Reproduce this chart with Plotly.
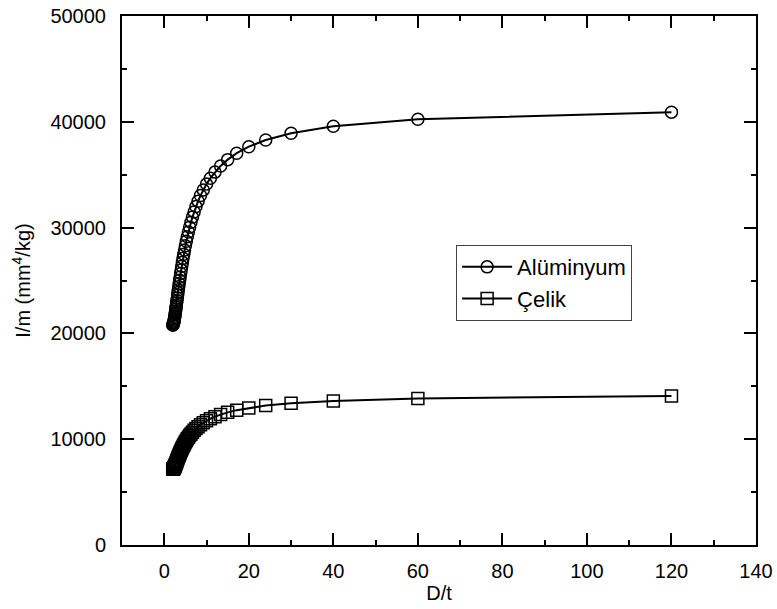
import plotly.graph_objects as go

dt = [120, 60, 40, 30, 24, 20, 17.14, 15, 13.33, 12, 10.91, 10, 9.23, 8.57, 8, 7.5, 7.06, 6.67,
      6.32, 6, 5.71, 5.45, 5.22, 5, 4.8, 4.62, 4.44, 4.29, 4.14, 4, 3.87, 3.75, 3.64, 3.53, 3.43,
      3.33, 3.24, 3.16, 3.08, 3, 2.93, 2.86, 2.79, 2.73, 2.67, 2.61, 2.55, 2.5, 2.45, 2.4, 2.35,
      2.31, 2.26, 2.22, 2.18, 2.14, 2.11, 2.07, 2.03, 2]

aluminyum = [40912, 40236, 39572, 38919, 38278, 37648, 37030, 36423, 35828, 35244, 34672, 34112,
             33563, 33026, 32500, 31986, 31483, 30992, 30512, 30044, 29588, 29143, 28710, 28288,
             27878, 27479, 27092, 26716, 26352, 26000, 25659, 25330, 25012, 24706, 24411, 24128,
             23856, 23596, 23348, 23111, 22886, 22672, 22470, 22279, 22100, 21932, 21776, 21632,
             21499, 21378, 21268, 21170, 21083, 21008, 20944, 20892, 20852, 20823, 20806, 20800]

celik = [14083, 13851, 13622, 13397, 13176, 12960, 12747, 12538, 12333, 12132, 11935, 11742,
         11553, 11369, 11188, 11011, 10837, 10668, 10503, 10342, 10185, 10032, 9883, 9738,
         9596, 9459, 9326, 9197, 9071, 8950, 8833, 8719, 8610, 8504, 8403, 8306,
         8212, 8123, 8037, 7956, 7878, 7804, 7735, 7669, 7608, 7550, 7496, 7446,
         7401, 7359, 7321, 7287, 7257, 7232, 7210, 7192, 7178, 7168, 7162, 7160]

names = ["Alüminyum", "Çelik"]
x_ticks = [0, 20, 40, 60, 80, 100, 120, 140]
y_ticks = [0, 10000, 20000, 30000, 40000, 50000]

FONT = "Liberation Sans, Arial, sans-serif"
FS = 20

fig = go.Figure()
fig.add_trace(go.Scatter(
    x=dt, y=aluminyum, name=names[0], mode="lines+markers", legendgroup="a",
    line=dict(color="black", width=2),
    marker=dict(symbol="circle-open", size=12, color="black", line=dict(width=1.5, color="black")),
))
fig.add_trace(go.Scatter(
    x=dt, y=celik, name=names[1], mode="lines+markers", legendgroup="b",
    line=dict(color="black", width=2),
    marker=dict(symbol="square-open", size=12, color="black", line=dict(width=1.5, color="black")),
))

axis_common = dict(
    showline=True, linecolor="black", linewidth=2, mirror="allticks",
    ticks="inside", ticklen=12, tickwidth=2, tickcolor="black",
    showgrid=False, zeroline=False, tickformat="d", automargin=False,
    tickfont=dict(family=FONT, size=FS, color="black"),
)

fig.update_xaxes(
    range=[-10, 140], tickvals=x_ticks,
    minor=dict(dtick=10, tick0=0, ticks="inside", ticklen=5, tickwidth=2, tickcolor="black", showgrid=False),
    title=dict(text="D/t", font=dict(family=FONT, size=FS, color="black"), standoff=5),
    ticklabelstandoff=7,
    **axis_common,
)
fig.update_yaxes(
    range=[0, 50000], tickvals=y_ticks,
    minor=dict(dtick=5000, tick0=0, ticks="inside", ticklen=5, tickwidth=2, tickcolor="black", showgrid=False),
    title=dict(text="I/m (mm<sup>4</sup>/kg)", font=dict(family=FONT, size=FS, color="black"), standoff=14),
    ticklabelstandoff=10,
    **axis_common,
)

fig.update_layout(
    width=777, height=609,
    margin=dict(l=122, r=21, t=16, b=64),
    paper_bgcolor="white", plot_bgcolor="white",
    font=dict(family=FONT, size=FS, color="black"),
    legend=dict(
        x=0.527, y=0.567, xanchor="left", yanchor="top",
        bgcolor="white", bordercolor="#444", borderwidth=1,
        font=dict(family=FONT, size=22, color="black"),
        itemwidth=50, tracegroupgap=0,
    ),
    showlegend=True,
)

fig.write_html("out.html")
